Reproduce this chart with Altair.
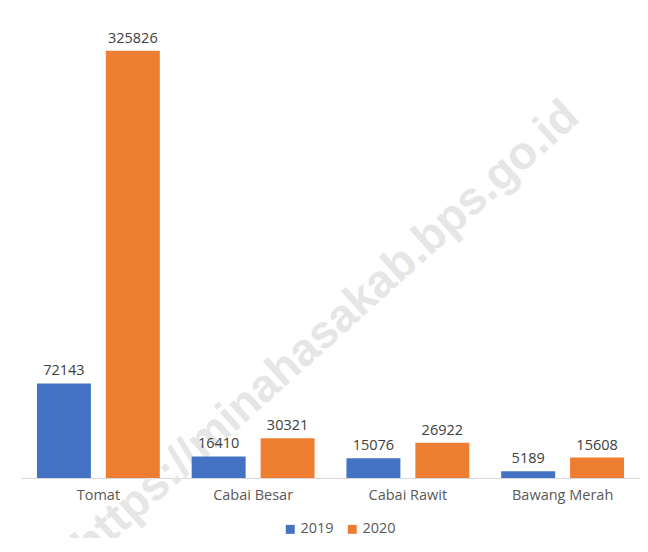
import altair as alt
import pandas as pd

categories = ["Tomat", "Cabai Besar", "Cabai Rawit", "Bawang Merah"]
years = ["2019", "2020"]
v2019 = [72143, 16410, 15076, 5189]
v2020 = [325826, 30321, 26922, 15608]
colors = ["#4472C4", "#ED7D31"]
watermark = "https://minahasakab.bps.go.id"

rows = []
for c, a, b in zip(categories, v2019, v2020):
    rows.append({"Komoditas": c, "Tahun": years[0], "Nilai": a})
    rows.append({"Komoditas": c, "Tahun": years[1], "Nilai": b})
df = pd.DataFrame(rows)

FONT = "Open Sans"
FS = 14.5

x = alt.X("Komoditas:N", sort=categories,
          scale=alt.Scale(paddingInner=0.206, paddingOuter=0.103),
          axis=alt.Axis(title=None, labelAngle=0, domainColor="#d9d9d9", domainWidth=1,
                        ticks=False, labelFontSize=FS, labelColor="#595959",
                        labelPadding=10, labelFont=FONT))
xo = alt.XOffset("Tahun:N", sort=years, scale=alt.Scale(paddingInner=0.217, paddingOuter=0))
y = alt.Y("Nilai:Q", scale=alt.Scale(domain=[0, 350000]), axis=None)

wm = alt.Chart(pd.DataFrame({"t": [watermark]})).mark_text(
    angle=318, fontSize=46, fontWeight="bold", font="Liberation Sans",
    color="#e6e6e6", align="center", baseline="middle"
).encode(text="t:N", x=alt.value(305), y=alt.value(312))

bars = alt.Chart(df).mark_bar().encode(
    x=x, xOffset=xo, y=y,
    color=alt.Color("Tahun:N", sort=years,
                    scale=alt.Scale(domain=years, range=colors),
                    legend=alt.Legend(title=None, orient="none", legendX=262, legendY=503,
                                      direction="horizontal", symbolType="square",
                                      symbolSize=80, symbolStrokeWidth=0,
                                      labelFontSize=FS, labelColor="#595959",
                                      labelFont=FONT, labelOffset=3, columnPadding=11))
)

labels = alt.Chart(df).mark_text(baseline="bottom", dy=-5, fontSize=FS,
                                 color="#404040", font=FONT).encode(
    x=x, xOffset=xo, y=y, text="Nilai:Q"
)

chart = alt.layer(wm, bars, labels).properties(
    width=619, height=459,
    autosize=alt.AutoSizeParams(type="none"),
    padding={"left": 13, "top": 11, "right": 0, "bottom": 60},
).configure_view(stroke=None)

chart.save("out.html", embed_options={"renderer": "svg", "actions": False})
